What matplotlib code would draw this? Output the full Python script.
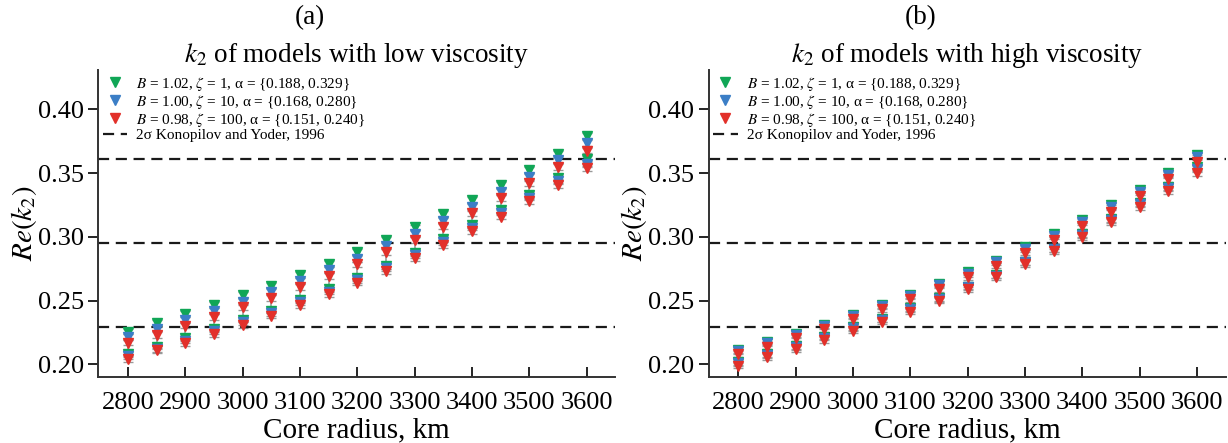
import numpy as np
import matplotlib
matplotlib.use("Agg")
import matplotlib.pyplot as plt

plt.rcParams['font.family'] = ['Liberation Serif', 'DejaVu Serif']
plt.rcParams['mathtext.fontset'] = 'stix'

# radio del nucleo, km
radius = np.arange(2800, 3601, 50)

# (a) baja viscosidad: dos valores de alpha por modelo (hi / lo)
low_green_hi = [0.2257, 0.2327, 0.2395, 0.2463, 0.2542, 0.2617, 0.2701, 0.2789, 0.2881,
                0.2975, 0.3074, 0.3179, 0.3289, 0.3407, 0.3524, 0.3654, 0.3793]
low_blue_hi = [0.2212, 0.2280, 0.2348, 0.2416, 0.2489, 0.2568, 0.2654, 0.2740, 0.2828,
               0.2928, 0.3024, 0.3127, 0.3236, 0.3354, 0.3472, 0.3602, 0.3736]
low_red_hi = [0.2170, 0.2231, 0.2303, 0.2372, 0.2448, 0.2521, 0.2607, 0.2693, 0.2784,
              0.2881, 0.2975, 0.3080, 0.3185, 0.3305, 0.3420, 0.3549, 0.3678]
low_green_lo = [0.2082, 0.2139, 0.2205, 0.2275, 0.2350, 0.2421, 0.2506, 0.2589, 0.2677,
                0.2771, 0.2875, 0.2981, 0.3095, 0.3211, 0.3331, 0.3461, 0.3611]
low_blue_lo = [0.2061, 0.2122, 0.2185, 0.2259, 0.2334, 0.2403, 0.2488, 0.2570, 0.2660,
               0.2752, 0.2855, 0.2960, 0.3073, 0.3190, 0.3309, 0.3436, 0.3572]
low_red_lo = [0.2043, 0.2108, 0.2165, 0.2238, 0.2309, 0.2382, 0.2466, 0.2550, 0.2641,
              0.2729, 0.2834, 0.2936, 0.3044, 0.3159, 0.3279, 0.3404, 0.3537]

# (b) alta viscosidad
high_green_hi = [0.2113, 0.2173, 0.2238, 0.2309, 0.2387, 0.2466, 0.2544, 0.2630, 0.2722,
                 0.2813, 0.2918, 0.3022, 0.3132, 0.3247, 0.3367, 0.3503, 0.3639]
high_blue_hi = [0.2103, 0.2163, 0.2228, 0.2299, 0.2377, 0.2456, 0.2534, 0.2619, 0.2710,
                0.2801, 0.2905, 0.3008, 0.3118, 0.3232, 0.3353, 0.3487, 0.3624]
high_red_hi = [0.2079, 0.2139, 0.2205, 0.2275, 0.2354, 0.2432, 0.2510, 0.2593, 0.2683,
               0.2774, 0.2876, 0.2975, 0.3087, 0.3197, 0.3320, 0.3451, 0.3589]
high_green_lo = [0.2016, 0.2079, 0.2144, 0.2217, 0.2291, 0.2356, 0.2440, 0.2520, 0.2609,
                 0.2701, 0.2805, 0.2907, 0.3022, 0.3138, 0.3263, 0.3393, 0.3545]
high_blue_lo = [0.2008, 0.2072, 0.2136, 0.2209, 0.2283, 0.2350, 0.2432, 0.2514, 0.2603,
                0.2696, 0.2800, 0.2901, 0.3016, 0.3131, 0.3255, 0.3384, 0.3531]
high_red_lo = [0.1990, 0.2056, 0.2118, 0.2191, 0.2264, 0.2335, 0.2413, 0.2499, 0.2588,
               0.2683, 0.2787, 0.2886, 0.3001, 0.3115, 0.3236, 0.3362, 0.3498]

# Konopliv & Yoder 1996, k2 = 0.295 +/- 2 sigma
k2_obs = [0.229, 0.295, 0.361]

labels = [r'$B$ = 1.02, $\zeta$ = 1, α = {0.188, 0.329}',
          r'$B$ = 1.00, $\zeta$ = 10, α = {0.168, 0.280}',
          r'$B$ = 0.98, $\zeta$ = 100, α = {0.151, 0.240}']
colors = ['#10a656', '#3b7ec6', '#e2302a']

panels = [
    ('(a)', '$k_2$ of models with low viscosity',
     [(low_green_hi, low_green_lo), (low_blue_hi, low_blue_lo), (low_red_hi, low_red_lo)]),
    ('(b)', '$k_2$ of models with high viscosity',
     [(high_green_hi, high_green_lo), (high_blue_hi, high_blue_lo), (high_red_hi, high_red_lo)]),
]

fig = plt.figure(figsize=(12.28, 4.43), dpi=100)
lefts = [0.080, 0.577]

for i, (tag, title, series) in enumerate(panels):
    ax = fig.add_axes([lefts[i], 0.149, 0.421, 0.693])

    # linea gris que une los dos valores de alpha
    ax.vlines(radius, series[2][0], series[0][1], color='#999999', lw=1.2, zorder=1)

    handles = []
    for (hi, lo), c, lab in zip(series, colors, labels):
        for j, vals in enumerate((hi, lo)):
            ax.errorbar(radius, vals, yerr=0.0022, fmt='none', ecolor='#999999',
                        elinewidth=1, capsize=3.5, capthick=1, zorder=2)
            h, = ax.plot(radius, vals, 'v', color=c, ms=6.5, ls='none', zorder=3,
                         label=lab)
        handles.append(h)

    for k, yv in enumerate(k2_obs):
        ln = ax.axhline(yv, color='#1a1a1a', ls=(0, (5, 3)), lw=1.6, zorder=2)
    ln.set_label('2σ Konopilov and Yoder, 1996')
    handles.append(ln)

    ax.set_xlim(2748, 3650)
    ax.set_ylim(0.190, 0.431)
    ax.set_xticks(np.arange(2800, 3601, 100))
    ax.set_yticks([0.20, 0.25, 0.30, 0.35, 0.40])
    ax.yaxis.set_major_formatter(plt.FormatStrFormatter('%.2f'))
    ax.tick_params(axis='x', direction='in', length=7, width=1.2, labelsize=19, pad=11)
    ax.tick_params(axis='y', direction='out', length=7, width=1.2, labelsize=19)
    for s in ['top', 'right']:
        ax.spines[s].set_visible(False)
    for s in ['left', 'bottom']:
        ax.spines[s].set_linewidth(1.4)
        ax.spines[s].set_color('#333333')

    ax.set_xlabel('Core radius, km', fontsize=21, labelpad=2)
    ax.set_ylabel('$Re(k_2)$', fontsize=21, labelpad=-1)
    ax.set_title(title, fontsize=19.5, pad=6)
    ax.text(0.41, 1.17, tag, transform=ax.transAxes, fontsize=19.5,
            ha='center', va='center')

    ax.legend(handles=handles, loc='upper left', frameon=False, fontsize=11,
              handlelength=1.6, handletextpad=0.6, labelspacing=0.0,
              borderaxespad=0.1, borderpad=0.2)

fig.savefig('out.png', dpi=100)
